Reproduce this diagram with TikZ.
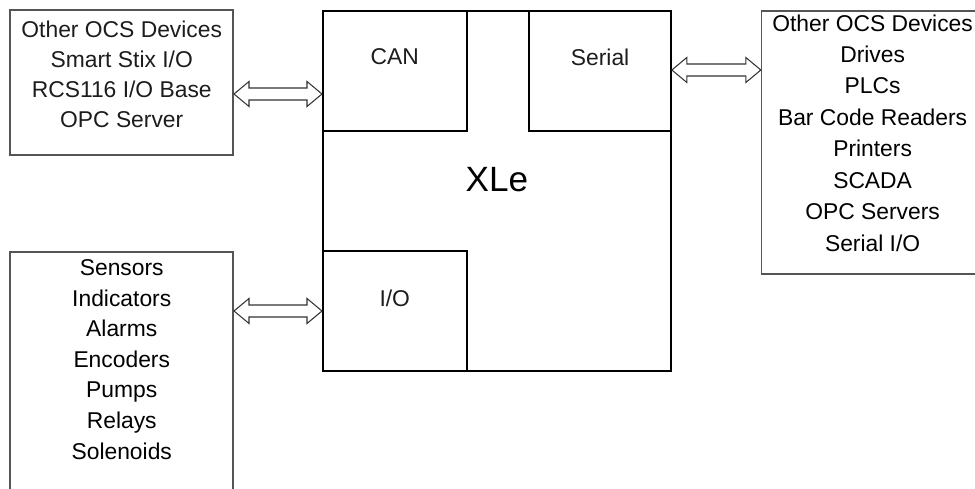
\documentclass[tikz,border=0pt]{standalone}
\usepackage{fontspec}
\setmainfont{Liberation Sans}
\usepackage{xcolor}
\usepackage{tikz}
\usetikzlibrary{positioning, calc}
\definecolor{edgeGray}{RGB}{85, 85, 85}
\definecolor{inkDark}{RGB}{28, 28, 28}

\begin{document}
\begin{tikzpicture}[x=0.02cm, y=-0.02cm, font=\fontsize{13}{17.1}\selectfont\color{inkDark},
    outbox/.style={draw=edgeGray, line width=0.9pt, inner sep=0pt},
    portbox/.style={draw=black, line width=0.9pt, inner sep=0pt, minimum height=2.4cm},
    listtxt/.style={align=center, inner sep=0pt},
    dblarrow/.style={draw=black!80, line width=0.6pt, to path={
        let \p1=(\tikztostart), \p2=(\tikztotarget) in
        (\x1,\y1) -- (\x1+0.3cm,\y1+0.25cm) -- (\x1+0.3cm,\y1+0.12cm) -- (\x2-0.3cm,\y1+0.12cm)
        -- (\x2-0.3cm,\y1+0.25cm) -- (\x2,\y1) -- (\x2-0.3cm,\y1-0.25cm) -- (\x2-0.3cm,\y1-0.12cm)
        -- (\x1+0.3cm,\y1-0.12cm) -- (\x1+0.3cm,\y1-0.25cm) -- cycle}}]
    \clip (0,0) rectangle (975,489);
    % controller: outer frame and its ports
    \node[draw=black, line width=1.1pt, inner sep=0pt, minimum width=6.96cm, minimum height=7.2cm, anchor=north west] (xle) at (322,10) {};
    \node[portbox, minimum width=2.88cm, anchor=north west] (can) at (xle.north west) {};
    \node[portbox, minimum width=2.84cm, anchor=north east] (ser) at (xle.north east) {};
    \node[portbox, minimum width=2.88cm, anchor=south west] (io) at (xle.south west) {};
    \node (cantxt) at ([yshift=-0.94cm]can.north) {CAN};
    \node (sertxt) at ([yshift=-0.94cm]ser.north) {Serial};
    \node (iotxt) at ([yshift=-0.96cm]io.north) {I/O};
    \node[font=\fontsize{20}{24}\selectfont] (xletxt) at ([yshift=-3.4cm]xle.north) {XLe};
    % field side: networks and devices
    \node[outbox, minimum width=4.46cm, minimum height=2.9cm, anchor=north east] (ocsl) at ([xshift=-1.76cm,yshift=0.02cm]xle.north west) {};
    \node[listtxt] (ocsltxt) at ([yshift=-1.3cm]ocsl.north) {Other OCS Devices\\Smart Stix I/O\\RCS116 I/O Base\\OPC Server};
    \node[outbox, minimum width=4.46cm, minimum height=5.8cm, anchor=north east] (dev) at ([xshift=-1.76cm,yshift=-4.82cm]xle.north west) {};
    \node[listtxt, font=\fontsize{13}{17.4}\selectfont] (devtxt) at ([yshift=-2.17cm]dev.north) {Sensors\\Indicators\\Alarms\\Encoders\\Pumps\\Relays\\Solenoids};
    \node[outbox, minimum width=4.44cm, minimum height=5.26cm, anchor=north west] (ocsr) at ([xshift=1.78cm]xle.north east) {};
    \node[listtxt, font=\fontsize{13}{17.9}\selectfont] (ocsrtxt) at ([yshift=-2.46cm]ocsr.north) {Other OCS Devices\\Drives\\PLCs\\Bar Code Readers\\Printers\\SCADA\\OPC Servers\\Serial I/O};
    % links
    \draw[dblarrow] (ocsl.east |- 0,94) to (can.west |- 0,94);
    \draw[dblarrow] (dev.east |- 0,311) to (io.west |- 0,311);
    \draw[dblarrow] (ser.east |- 0,70) to (ocsr.west |- 0,70);
\end{tikzpicture}
\end{document}
